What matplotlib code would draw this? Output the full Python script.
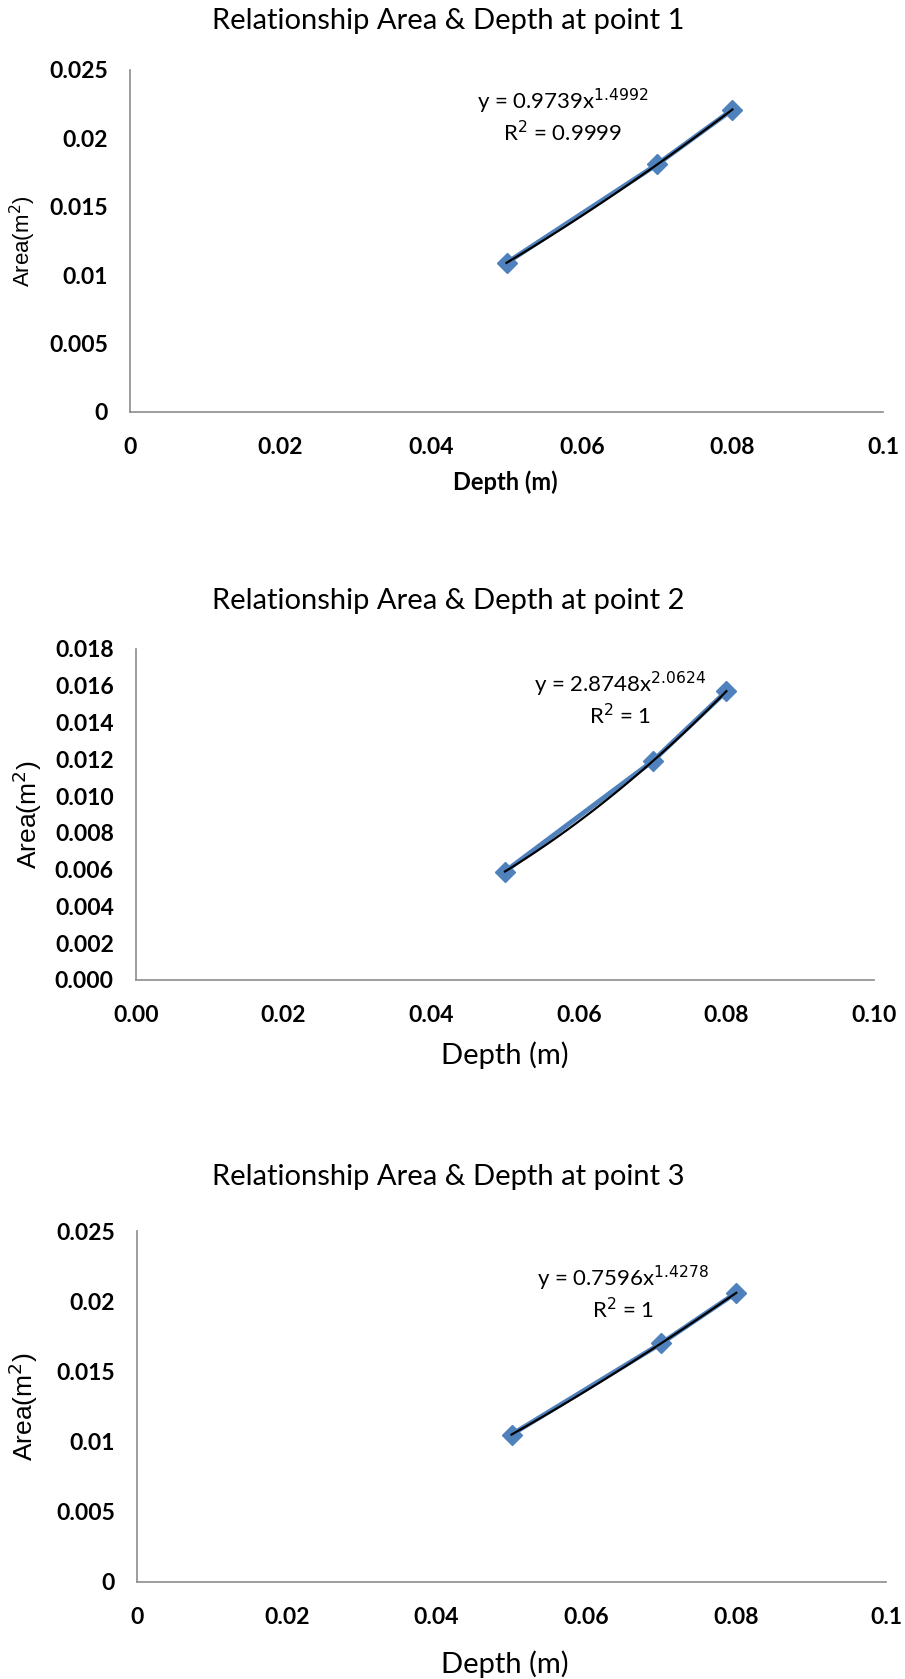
import numpy as np
import matplotlib
matplotlib.use("Agg")
import matplotlib.pyplot as plt
from matplotlib.ticker import FixedLocator, FixedFormatter

# ---------------- data ----------------
depth = [0.05, 0.07, 0.08]
area_p1 = [0.0109, 0.0181, 0.0221]
area_p2 = [0.0059, 0.0119, 0.0157]
area_p3 = [0.0105, 0.0170, 0.0206]

titles = ["Relationship Area & Depth at point 1",
          "Relationship Area & Depth at point 2",
          "Relationship Area & Depth at point 3"]
eq_texts = ["y = 0.9739x$^{1.4992}$\nR$^{2}$ = 0.9999",
            "y = 2.8748x$^{2.0624}$\nR$^{2}$ = 1",
            "y = 0.7596x$^{1.4278}$\nR$^{2}$ = 1"]

x_ticks = [0, 0.02, 0.04, 0.06, 0.08, 0.1]
x_labels_a = ["0", "0.02", "0.04", "0.06", "0.08", "0.1"]
x_labels_b = ["0.00", "0.02", "0.04", "0.06", "0.08", "0.10"]
y_ticks_a = [0, 0.005, 0.01, 0.015, 0.02, 0.025]
y_labels_a = ["0", "0.005", "0.01", "0.015", "0.02", "0.025"]
y_ticks_b = [0, 0.002, 0.004, 0.006, 0.008, 0.010, 0.012, 0.014, 0.016, 0.018]
y_labels_b = ["0.000", "0.002", "0.004", "0.006", "0.008", "0.010",
              "0.012", "0.014", "0.016", "0.018"]

# ---------------- layout ----------------
W, H = 905, 1679
fig = plt.figure(figsize=(W / 100, H / 100), dpi=100)
fig.patch.set_facecolor("white")

FONT = ["Lato", "DejaVu Sans"]
YFONT = ["Liberation Sans", "DejaVu Sans"]
BLUE = "#4F81BD"
SPINE = "#8C8C8C"

panels = [
    dict(box=(130, 883, 70, 412), y=area_p1, title_y=21, yt=y_ticks_a, yl=y_labels_a,
         xl=x_labels_a, ymax=0.025, eq_pos=(0.574, 0.866), bold=True,
         xlabel_y=482, ylabel_x=23, xlab_size=17, ylab_size=16),
    dict(box=(136, 874, 649, 980), y=area_p2, title_y=601, yt=y_ticks_b, yl=y_labels_b,
         xl=x_labels_b, ymax=0.018, eq_pos=(0.656, 0.849), bold=False,
         xlabel_y=1055, ylabel_x=27, xlab_size=21, ylab_size=19),
    dict(box=(137, 886, 1231, 1582), y=area_p3, title_y=1177, yt=y_ticks_a, yl=y_labels_a,
         xl=x_labels_a, ymax=0.025, eq_pos=(0.649, 0.823), bold=False,
         xlabel_y=1664, ylabel_x=23, xlab_size=21, ylab_size=19),
]

for i, p in enumerate(panels):
    l, r, t, b = p["box"]
    ax = fig.add_axes([l / W, 1 - b / H, (r - l) / W, (b - t) / H])
    ax.set_xlim(0, 0.1)
    ax.set_ylim(0, p["ymax"])
    for s in ["top", "right"]:
        ax.spines[s].set_visible(False)
    for s in ["left", "bottom"]:
        ax.spines[s].set_color(SPINE)
        ax.spines[s].set_linewidth(1.2)
    ax.xaxis.set_major_locator(FixedLocator(x_ticks))
    ax.xaxis.set_major_formatter(FixedFormatter(p["xl"]))
    ax.yaxis.set_major_locator(FixedLocator(p["yt"]))
    ax.yaxis.set_major_formatter(FixedFormatter(p["yl"]))
    ax.tick_params(length=0, labelsize=16.5, pad=16)
    ax.tick_params(axis="x", pad=18)
    for lab in ax.get_xticklabels() + ax.get_yticklabels():
        lab.set_family(FONT)
        lab.set_fontweight("bold")

    # data series (blue line + diamond markers)
    ax.plot(depth, p["y"], color=BLUE, lw=3.5, marker="D", ms=10.5,
            mfc=BLUE, mec=BLUE, zorder=3, clip_on=False)
    # power trendline fitted to the data
    k, c = np.polyfit(np.log(depth), np.log(p["y"]), 1)
    xs = np.linspace(min(depth), max(depth), 100)
    ax.plot(xs, np.exp(c) * xs ** k, color="black", lw=1.6, zorder=4)

    ax.text(p["eq_pos"][0], p["eq_pos"][1], eq_texts[i], transform=ax.transAxes,
            ha="center", va="center", multialignment="center", fontsize=16,
            family=FONT, linespacing=1.2)

    fig.text(0.495, 1 - p["title_y"] / H, titles[i], ha="center", va="center",
             fontsize=21, family=FONT)
    fig.text(505 / W, 1 - p["xlabel_y"] / H,
             "Depth (m)", ha="center", va="center", fontsize=p["xlab_size"],
             family=FONT, fontweight="bold" if p["bold"] else "normal")
    fig.text(p["ylabel_x"] / W, 1 - (t + b) / 2 / H, "Area(m$^{2}$)", rotation=90,
             ha="center", va="center", fontsize=p["ylab_size"], family=YFONT)

fig.savefig("out.png", dpi=100, facecolor="white")
